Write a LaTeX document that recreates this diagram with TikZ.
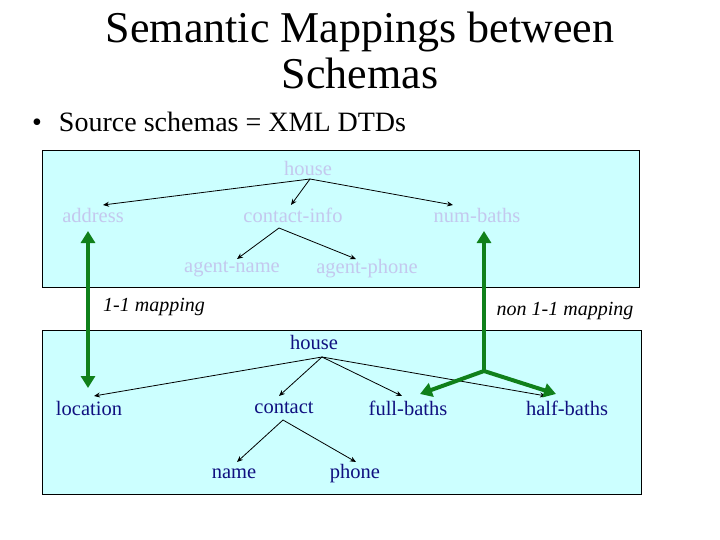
\documentclass[tikz,border=0pt]{standalone}
\usepackage{fontspec}
\setmainfont{Liberation Serif}
\usetikzlibrary{arrows.meta}
\definecolor{boxbg}{HTML}{CCFFFF}
\definecolor{pale}{HTML}{C4C8EE}
\definecolor{navy}{HTML}{101080}
\definecolor{grn}{HTML}{10801A}
\tikzset{
  box/.style={draw=black, fill=boxbg, line width=0.7pt},
  lab/.style={font=\fontsize{20.5}{20.5}\selectfont, inner sep=0pt},
  up/.style={lab, text=pale},
  lo/.style={lab, text=navy},
  tree/.style={draw=black, line width=0.8pt, -{Stealth[length=6pt,width=5pt]}},
  map/.style={draw=grn, line width=4pt},
  maptip/.style={-{Triangle[length=12pt,width=14pt]}},
}
\begin{document}
\begin{tikzpicture}[x=1pt,y=-1pt]
\useasboundingbox (0,0) rectangle (720,540);
\fill[white] (0,0) rectangle (720,540);
\node[inner sep=0pt, align=center, font=\fontsize{44}{46}\selectfont] (title) at (360,50) {Semantic Mappings between\\Schemas};
\node[anchor=west, inner sep=0pt, font=\fontsize{28}{28}\selectfont] (bullet) at (32,122) {•\hspace{17pt}Source schemas = XML DTDs};
\draw[box] (42,150) rectangle (639,287);
\draw[box] (42,330) rectangle (641,494);
% top tree
\node[up] (h1) at (308,168) {house};
\node[up] (addr) at (93,215) {address};
\node[up] (ci) at (293,215) {contact-info};
\node[up] (nb) at (477,215) {num-baths};
\node[up] (an) at (232,269) {agent-name};
\node[up] (ap) at (367,269) {agent-phone};
\coordinate (h1o) at (310,179);
\coordinate (cio) at (279,228);
\draw[tree] (h1o) -- (103,205);
\draw[tree] (h1o) -- (291,205);
\draw[tree] (h1o) -- (453,205);
\draw[tree] (cio) -- (237,259);
\draw[tree] (cio) -- (356,259);
% bottom tree
\node[lo] (h2) at (314,342) {house};
\node[lo] (loc) at (89,408) {location};
\node[lo] (ct) at (284,408) {contact};
\node[lo] (fb) at (408,408) {full-baths};
\node[lo] (hb) at (567,408) {half-baths};
\node[lo] (nm) at (234,474) {name};
\node[lo] (ph) at (355,474) {phone};
\coordinate (h2o) at (322,357);
\coordinate (cto) at (283,420);
\draw[tree] (h2o) -- (94,396);
\draw[tree] (h2o) -- (279,396);
\draw[tree] (h2o) -- (402,396);
\draw[tree] (h2o) -- (546,396);
\draw[tree] (cto) -- (237,462);
\draw[tree] (cto) -- (356,462);
% mappings
\node[lab, font=\itshape\fontsize{20}{20}\selectfont] (m1) at (154,307) {1-1 mapping};
\node[lab, font=\itshape\fontsize{20}{20}\selectfont] (m2) at (565,311) {non 1-1 mapping};
\draw[map, {Triangle[length=12pt,width=14pt]}-{Triangle[length=12pt,width=14pt]}] (88,231) -- (88,388);
\coordinate (j) at (484,371);
\draw[map, maptip] (j) -- (484,231);
\draw[map, maptip] (j) -- (420,394);
\draw[map, maptip] (j) -- (556,394);
\end{tikzpicture}
\end{document}
